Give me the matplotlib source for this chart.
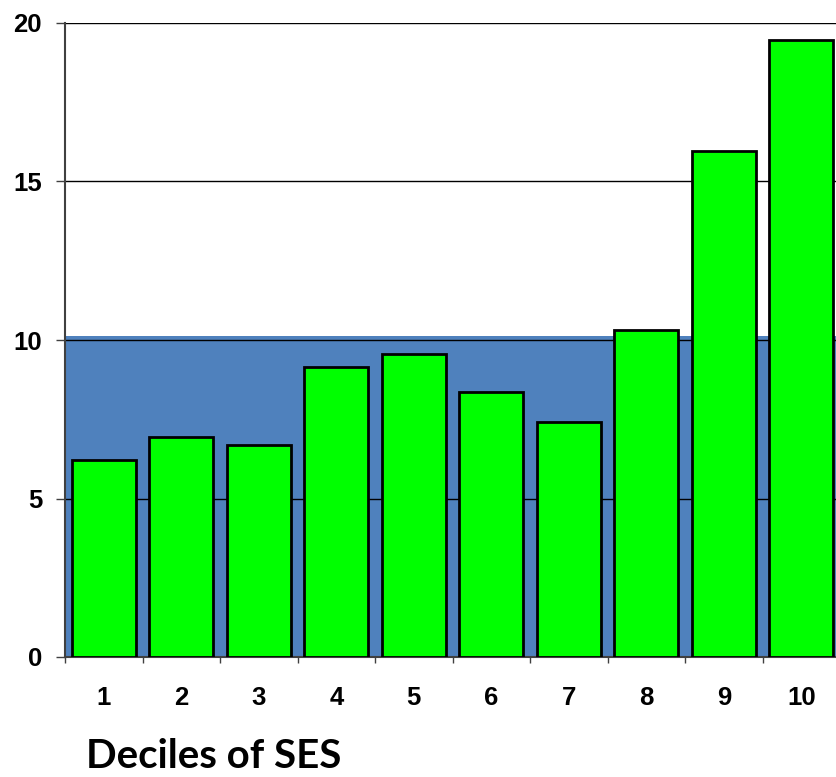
import numpy as np
import matplotlib.pyplot as plt

deciles = ["1", "2", "3", "4", "5", "6", "7", "8", "9", "10"]
values = [6.2, 6.95, 6.7, 9.15, 9.57, 8.37, 7.42, 10.3, 15.95, 19.45]
reference_level = 10.12
yticks = [0, 5, 10, 15, 20]

fig = plt.figure(figsize=(8.36, 7.77), dpi=100)
ax = fig.add_axes([65 / 836, 120 / 777, 775 / 836, 634 / 777])

x = np.arange(1, len(deciles) + 1)

# shaded reference band behind the bars
ax.axhspan(0, reference_level, color="#4F81BD", zorder=0, lw=0)
for y in yticks[1:]:
    ax.axhline(y, color="black", lw=1.0, zorder=1)

ax.bar(x, values, width=0.83, color="#00FF00", edgecolor="black",
       linewidth=2.0, zorder=3)

ax.set_xlim(0.5, len(deciles) + 0.5)
ax.set_ylim(0, 20)

ax.set_yticks(yticks)
ax.set_yticklabels([str(v) for v in yticks])
ax.set_xticks(x)
ax.set_xticklabels(deciles)
ax.set_xticks(np.arange(0.5, len(deciles) + 1, 1.0), minor=True)

for lab in ax.get_xticklabels() + ax.get_yticklabels():
    lab.set_fontfamily("Liberation Sans")
    lab.set_fontweight("bold")
    lab.set_fontsize(18.5)

ax.tick_params(axis="x", which="major", length=0, pad=21)
ax.tick_params(axis="x", which="minor", length=4.5, width=1.0, color="#404040")
ax.tick_params(axis="y", length=6.5, width=1.0, color="#404040", pad=10)

for side in ["top", "right"]:
    ax.spines[side].set_visible(False)
ax.spines["left"].set_color("#404040")
ax.spines["left"].set_linewidth(1.5)
ax.spines["bottom"].set_color("#404040")
ax.spines["bottom"].set_linewidth(1.5)

fig.text(86 / 836, 1 - 756 / 777, "Deciles of SES", fontfamily="Lato",
         fontweight="bold", fontsize=29, ha="left", va="center")

fig.savefig("out.png", dpi=100)
